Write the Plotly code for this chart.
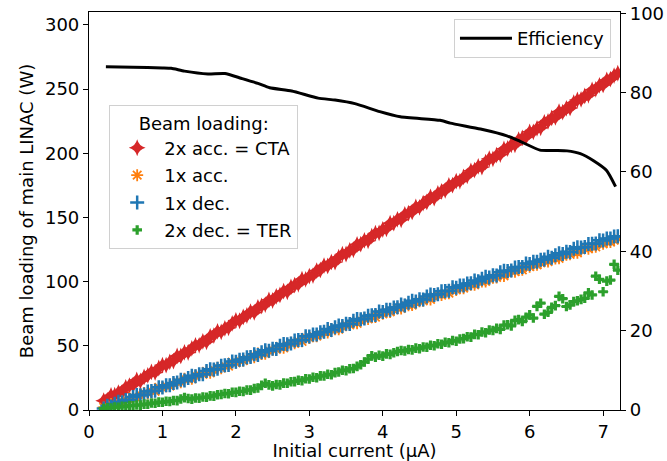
import plotly.graph_objects as go

# Initial current (µA) of each beam-loading measurement
current = [0.20, 0.25, 0.30, 0.35, 0.40, 0.45, 0.50, 0.55, 0.60, 0.65,
           0.70, 0.75, 0.80, 0.85, 0.90, 0.95, 1.00, 1.05, 1.10, 1.15,
           1.20, 1.25, 1.30, 1.35, 1.40, 1.45, 1.50, 1.55, 1.60, 1.65,
           1.70, 1.75, 1.80, 1.85, 1.90, 1.95, 2.00, 2.05, 2.10, 2.15,
           2.20, 2.25, 2.30, 2.35, 2.40, 2.45, 2.50, 2.55, 2.60, 2.65,
           2.70, 2.75, 2.80, 2.85, 2.90, 2.95, 3.00, 3.05, 3.10, 3.15,
           3.20, 3.25, 3.30, 3.35, 3.40, 3.45, 3.50, 3.55, 3.60, 3.65,
           3.70, 3.75, 3.80, 3.85, 3.90, 3.95, 4.00, 4.05, 4.10, 4.15,
           4.20, 4.25, 4.30, 4.35, 4.40, 4.45, 4.50, 4.55, 4.60, 4.65,
           4.70, 4.75, 4.80, 4.85, 4.90, 4.95, 5.00, 5.05, 5.10, 5.15,
           5.20, 5.25, 5.30, 5.35, 5.40, 5.45, 5.50, 5.55, 5.60, 5.65,
           5.70, 5.75, 5.80, 5.85, 5.90, 5.95, 6.00, 6.05, 6.10, 6.15,
           6.20, 6.25, 6.30, 6.35, 6.40, 6.45, 6.50, 6.55, 6.60, 6.65,
           6.70, 6.75, 6.80, 6.85, 6.90, 6.95, 7.00, 7.05, 7.10, 7.15, 7.20]

# Beam loading of main LINAC (W)
acc2_cta = [7.3, 7.5, 11.3, 11.5, 13.6, 13.8, 17.7, 18.9, 19.5, 23.4,
            22.6, 25.8, 26.9, 29.7, 29.2, 32.7, 35.0, 35.0, 37.5, 38.1,
            42.1, 42.1, 44.9, 44.8, 48.0, 50.4, 50.4, 53.4, 53.1, 57.3,
            58.0, 61.3, 60.9, 63.5, 64.0, 67.5, 69.8, 69.5, 72.5, 73.6,
            76.7, 76.0, 80.0, 81.0, 82.1, 85.8, 85.3, 88.5, 89.6, 92.6,
            92.1, 95.9, 97.2, 97.9, 101.9, 101.8, 104.3, 104.7, 108.6, 109.1,
            112.5, 112.2, 115.3, 115.2, 119.1, 121.4, 121.5, 124.3, 124.8, 128.9,
            129.2, 132.1, 131.8, 135.4, 137.7, 138.0, 140.6, 141.1, 145.5, 145.6,
            148.5, 148.2, 152.4, 153.4, 154.3, 158.2, 157.9, 161.1, 162.1, 165.9,
            165.1, 168.8, 170.2, 171.0, 174.9, 175.2, 178.3, 178.1, 181.6, 182.4,
            186.3, 186.8, 189.7, 189.2, 193.1, 195.7, 195.6, 198.5, 199.0, 203.4,
            203.7, 206.6, 206.6, 210.6, 212.0, 212.6, 216.7, 216.7, 219.3, 219.8,
            224.1, 224.8, 227.5, 227.9, 232.3, 232.0, 235.0, 235.3, 239.3, 241.6,
            241.9, 244.6, 245.1, 249.4, 249.8, 252.9, 253.2, 257.1, 257.7, 260.5, 262.3]

acc1 = [2.0, 1.7, 4.6, 4.3, 4.6, 7.1, 7.7, 8.0, 10.4, 9.3,
        11.9, 13.3, 12.9, 14.6, 14.6, 17.7, 17.2, 18.8, 18.7, 20.4,
        21.9, 21.6, 24.4, 24.1, 24.3, 26.9, 27.5, 27.8, 30.1, 29.0,
        31.5, 33.0, 32.6, 34.3, 34.2, 37.3, 36.8, 38.5, 38.4, 40.0,
        41.4, 41.1, 44.0, 43.7, 43.9, 46.4, 46.9, 47.2, 49.6, 48.4,
        50.9, 52.3, 51.9, 53.6, 53.5, 56.6, 56.1, 57.7, 57.5, 59.2,
        60.7, 60.3, 63.1, 62.8, 62.9, 65.4, 66.0, 66.3, 68.6, 67.5,
        69.9, 71.3, 70.9, 72.5, 72.4, 75.5, 74.9, 76.5, 76.4, 78.0,
        79.4, 79.1, 81.9, 81.5, 81.7, 84.2, 84.7, 85.0, 87.3, 86.1,
        88.6, 90.0, 89.5, 91.1, 91.0, 94.0, 93.5, 95.1, 94.9, 96.5,
        97.9, 97.5, 100.3, 100.0, 100.1, 102.6, 103.1, 103.3, 105.6, 104.4,
        106.8, 108.2, 107.7, 109.3, 109.2, 112.2, 111.6, 113.2, 113.1, 114.7,
        116.0, 115.6, 118.4, 118.0, 118.1, 120.5, 121.0, 121.3, 123.6, 122.4,
        124.8, 126.1, 125.6, 127.2, 127.1, 130.1, 129.5, 131.0, 130.8, 132.4, 133.8]

dec1 = [1.2, 3.3, 2.7, 4.9, 6.5, 6.1, 7.8, 7.7, 10.2, 11.7,
        11.5, 12.1, 14.4, 14.8, 15.0, 17.8, 17.6, 19.2, 19.3, 21.1,
        21.4, 23.5, 22.9, 25.0, 26.6, 26.2, 27.9, 27.8, 30.3, 31.7,
        31.5, 32.1, 34.4, 34.8, 35.0, 37.8, 37.6, 39.2, 39.3, 41.1,
        41.3, 43.4, 42.8, 44.9, 46.5, 46.1, 47.7, 47.6, 50.1, 51.5,
        51.2, 51.8, 54.1, 54.5, 54.6, 57.4, 57.2, 58.8, 58.8, 60.6,
        60.9, 63.0, 62.3, 64.4, 65.9, 65.5, 67.1, 67.0, 69.5, 70.9,
        70.6, 71.2, 73.4, 73.8, 73.9, 76.7, 76.4, 78.0, 78.0, 79.8,
        80.0, 82.1, 81.4, 83.5, 85.0, 84.6, 86.2, 86.1, 88.5, 89.9,
        89.6, 90.2, 92.4, 92.7, 92.8, 95.6, 95.3, 96.9, 96.9, 98.6,
        98.8, 100.9, 100.2, 102.3, 103.8, 103.3, 104.9, 104.8, 107.2, 108.5,
        108.2, 108.7, 110.9, 111.3, 111.4, 114.1, 113.8, 115.4, 115.4, 117.1,
        117.3, 119.3, 118.6, 120.6, 122.1, 121.6, 123.2, 123.1, 125.5, 126.8,
        126.5, 127.0, 129.2, 129.5, 129.6, 132.3, 132.0, 133.5, 133.5, 135.2, 135.4]

dec2_ter = [1.2, 1.8, 1.6, 2.3, 2.2, 2.9, 2.7, 3.4, 3.3, 3.9,
            3.8, 4.6, 4.5, 5.4, 5.3, 6.1, 6.0, 6.8, 6.6, 7.4,
            7.3, 8.6, 9.6, 8.9, 8.5, 9.4, 9.2, 10.1, 9.9, 11.0,
            10.8, 11.9, 12.1, 12.9, 12.6, 13.8, 13.7, 14.6, 14.4, 15.6,
            15.5, 16.7, 17.1, 19.2, 20.8, 19.6, 18.8, 19.9, 19.6, 20.9,
            20.8, 22.0, 22.1, 23.2, 22.8, 24.3, 24.2, 25.5, 25.1, 26.6,
            26.5, 27.8, 27.4, 29.1, 29.6, 31.0, 30.6, 32.1, 32.3, 34.0,
            35.2, 37.4, 39.6, 42.3, 41.2, 42.6, 42.0, 43.7, 43.3, 44.6,
            45.6, 46.3, 45.9, 47.1, 46.8, 48.2, 47.7, 49.1, 48.9, 50.4,
            50.0, 51.6, 51.2, 52.8, 52.4, 54.1, 53.6, 55.3, 55.6, 57.1,
            56.8, 58.9, 58.6, 60.8, 60.2, 62.3, 61.9, 63.6, 62.7, 66.1,
            66.4, 65.5, 69.8, 70.4, 68.9, 72.3, 74.1, 71.6, 80.7, 83.2,
            74.6, 76.1, 79.9, 81.3, 88.5, 86.7, 80.6, 81.9, 84.4, 85.1,
            86.2, 87.0, 91.3, 89.6, 104.2, 101.8, 92.1, 100.4, 101.2, 113.5, 108.9]

# Efficiency (%) on the right-hand axis
eff_current = [0.23, 0.6, 1.0, 1.12, 1.3, 1.62, 1.85, 2.07, 2.3, 2.46,
               2.76, 3.12, 3.35, 3.62, 3.96, 4.24, 4.78, 4.92, 5.33, 5.69,
               5.87, 6.14, 6.35, 6.51, 6.69, 6.87, 7.05, 7.17]
efficiency = [86.5, 86.4, 86.2, 86.1, 85.4, 84.7, 84.8, 83.6, 82.3, 81.2,
              80.4, 78.6, 78.1, 77.2, 75.2, 73.9, 73.0, 72.3, 70.8, 69.1,
              67.7, 65.5, 65.4, 65.3, 64.6, 62.8, 60.3, 56.3]

FONT = dict(family="DejaVu Sans", size=18, color="black")


def loading_trace(y, name, color, symbol, size, ex, ey, group, line_w=0):
    marker = dict(color=color, symbol=symbol, size=size)
    if line_w:
        marker["line"] = dict(color=color, width=line_w)
    return go.Scatter(
        x=current, y=y, name=name, mode="markers", marker=marker,
        error_x=dict(type="constant", value=ex, color=color, thickness=1.2, width=0),
        error_y=dict(type="constant", value=ey, color=color, thickness=1.2, width=0),
        legend="legend2", legendgroup=group,
    )


fig = go.Figure()
fig.add_trace(loading_trace(acc2_cta, "2x acc. = CTA", "#d62728", "star-diamond", 12, 0.06, 4.5, "a"))
fig.add_trace(loading_trace(acc1, "1x acc.", "#ff7f0e", "asterisk-open", 10, 0.06, 3.5, "b", 1.8))
fig.add_trace(loading_trace(dec1, "1x dec.", "#1f77b4", "cross-thin-open", 10, 0.05, 3.0, "c", 2.5))
fig.add_trace(loading_trace(dec2_ter, "2x dec. = TER", "#2ca02c", "cross", 8, 0.07, 3.0, "d"))

fig.add_trace(go.Scatter(
    x=eff_current, y=efficiency, name="Efficiency", mode="lines",
    line=dict(color="black", width=3, shape="spline", smoothing=0.5),
    yaxis="y2", legend="legend",
))

axis_common = dict(
    showline=True, linecolor="black", linewidth=1.2,
    ticks="outside", ticklen=5, tickwidth=1.2, tickcolor="black",
    showgrid=False, zeroline=False, tickfont=FONT, automargin=False,
)

fig.update_layout(
    width=667, height=461,
    margin=dict(l=89, r=47, t=12, b=51),
    paper_bgcolor="white", plot_bgcolor="white",
    font=FONT,
    showlegend=True,
    xaxis=dict(range=[0, 7.23], tickvals=[0, 1, 2, 3, 4, 5, 6, 7], mirror=True,
               title=dict(text="Initial current (µA)", font=FONT, standoff=2),
               **axis_common),
    yaxis=dict(range=[0, 310], tickvals=[0, 50, 100, 150, 200, 250, 300],
               title=dict(text="Beam loading of main LINAC (W)", font=FONT, standoff=6),
               **axis_common),
    yaxis2=dict(range=[0, 100.3], tickvals=[0, 20, 40, 60, 80, 100],
                overlaying="y", side="right", **axis_common),
    legend=dict(x=0.983, xanchor="right", y=0.982, yanchor="top",
                bgcolor="rgba(255,255,255,0.8)", bordercolor="#d0d0d0", borderwidth=1,
                font=FONT, itemwidth=52),
    legend2=dict(x=0.038, xanchor="left", y=0.766, yanchor="top",
                 bgcolor="rgba(255,255,255,0.8)", bordercolor="#d0d0d0", borderwidth=1,
                 font=FONT, tracegroupgap=1, traceorder="grouped", itemwidth=44,
                 title=dict(text="Beam loading:", side="top center", font=FONT)),
)

fig.write_html("out.html")
